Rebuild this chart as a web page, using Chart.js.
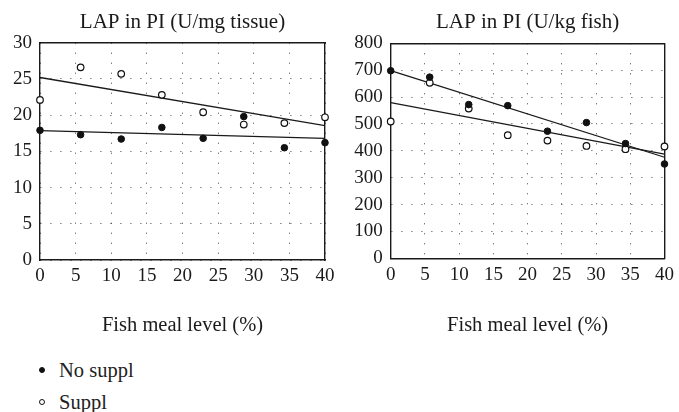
<!DOCTYPE html>
<html>
<head>
<meta charset="utf-8">
<script src="https://cdn.jsdelivr.net/npm/chart.js@4"></script>
<style>
  html, body { margin: 0; padding: 0; background: #fff; }
  body { width: 679px; height: 412px; position: relative; overflow: hidden; font-family: "Liberation Serif", "DejaVu Serif", serif; }
  #wrapL { position: absolute; left: 0; top: 0; width: 340px; height: 345px; }
  #wrapR { position: absolute; left: 340px; top: 0; width: 339px; height: 345px; }
  .leg { position: absolute; left: 39px; font-size: 20.5px; color: #222; line-height: 24px; }
  .leg span.m { display: inline-block; width: 6px; height: 6px; border-radius: 50%; box-sizing: border-box; border: 1px solid #111; vertical-align: middle; margin-right: 14px; position: relative; top: -2px; }
</style>
</head>
<body>
<div id="wrapL"><canvas id="cL"></canvas></div>
<div id="wrapR"><canvas id="cR"></canvas></div>
<div class="leg" style="top:358px;"><span class="m" style="background:#111"></span>No suppl</div>
<div class="leg" style="top:390px;"><span class="m" style="background:#fff"></span>Suppl</div>
<script>
// Fish meal levels (%)
const fishMeal = [0, 5.7, 11.4, 17.1, 22.9, 28.6, 34.3, 40];
// LAP in PI (U/mg tissue)
const mgNoSuppl = [17.9, 17.3, 16.7, 18.3, 16.8, 19.8, 15.5, 16.2];
const mgSuppl   = [22.1, 26.6, 25.7, 22.8, 20.4, 18.7, 18.9, 19.7];
// LAP in PI (U/kg fish)
const kgNoSuppl = [698, 674, 572, 568, 473, 505, 427, 351];
const kgSuppl   = [509, 653, 557, 458, 438, 418, 406, 416];
// Regression line end points (x = 0 and x = 40)
const fitX = [0, 40];
const mgFitNoSuppl = [17.85, 16.8];
const mgFitSuppl   = [25.2, 18.55];
const kgFitNoSuppl = [698, 376];
const kgFitSuppl   = [579, 388];
// Titles / labels
const titles = ['LAP in PI (U/mg tissue)', 'LAP in PI (U/kg fish)'];
const xTitle = 'Fish meal level (%)';
const legendLabels = ['No suppl', 'Suppl'];

const FONT = "'Liberation Serif', 'DejaVu Serif', serif";
const INK = '#1a1a1a';

function pts(xs, ys) { return xs.map((x, i) => ({x: x, y: ys[i]})); }

function makeChart(id, title, noS, sup, fitNo, fitSup, yMax, yStep, yWidth, padRight, topH, xAxisH) {
  return new Chart(document.getElementById(id), {
    type: 'scatter',
    data: {
      datasets: [
        {label: legendLabels[0], data: pts(fishMeal, noS), pointRadius: 3.3, pointBackgroundColor: '#111', pointBorderColor: '#111', pointBorderWidth: 1, showLine: false, clip: false},
        {label: legendLabels[1], data: pts(fishMeal, sup), pointRadius: 3.3, pointBackgroundColor: '#fff', pointBorderColor: '#111', pointBorderWidth: 1.2, showLine: false, clip: false},
        {label: 'fit1', data: pts(fitX, fitNo), showLine: true, pointRadius: 0, borderColor: INK, borderWidth: 1.3, fill: false},
        {label: 'fit2', data: pts(fitX, fitSup), showLine: true, pointRadius: 0, borderColor: INK, borderWidth: 1.3, fill: false}
      ]
    },
    options: {
      responsive: true, maintainAspectRatio: false, animation: false,
      layout: {padding: {left: 0, right: padRight, top: 0, bottom: 0}},
      plugins: {
        legend: {display: false},
        tooltip: {enabled: false},
        title: {display: false}
      },
      scales: {
        x: {
          type: 'linear', position: 'bottom', min: 0, max: 40,
          ticks: {stepSize: 5, color: INK, font: {family: FONT, size: 19}, padding: 5, maxRotation: 0},
          grid: {color: '#444', lineWidth: 1, drawTicks: false},
          border: {display: true, color: INK, width: 1.4, dash: [1, 9]},
          title: {display: true, text: xTitle, color: INK, font: {family: FONT, size: 20.5}, padding: {top: 10, bottom: 7}},
          afterFit: (s) => { s.height = xAxisH; }
        },
        y: {
          type: 'linear', position: 'left', min: 0, max: yMax,
          ticks: {stepSize: yStep, color: INK, font: {family: FONT, size: 19}, padding: 8},
          grid: {color: '#444', lineWidth: 1, drawTicks: false},
          border: {display: true, color: INK, width: 1.4, dash: [1, 9]},
          afterFit: (s) => { s.width = yWidth; }
        },
        x2: {
          type: 'linear', position: 'top', display: true, min: 0, max: 40,
          ticks: {display: false},
          grid: {display: false, drawTicks: false},
          border: {display: true, color: INK, width: 1.4},
          title: {display: true, text: title, color: INK, font: {family: FONT, size: 21}, padding: {top: 9.4, bottom: 0}},
          afterFit: (s) => { s.height = topH; }
        },
        y2: {
          type: 'linear', position: 'right', display: true, min: 0, max: yMax,
          ticks: {display: false},
          grid: {display: false, drawTicks: false},
          border: {display: true, color: INK, width: 1.4},
          afterFit: (s) => { s.width = 0; }
        }
      }
    }
  });
}

makeChart('cL', titles[0], mgNoSuppl, mgSuppl, mgFitNoSuppl, mgFitSuppl, 30, 5, 40, 15, 42.7, 85);
makeChart('cR', titles[1], kgNoSuppl, kgSuppl, kgFitNoSuppl, kgFitSuppl, 800, 100, 50.7, 10.7, 43.3, 86.7);
</script>
</body>
</html>
